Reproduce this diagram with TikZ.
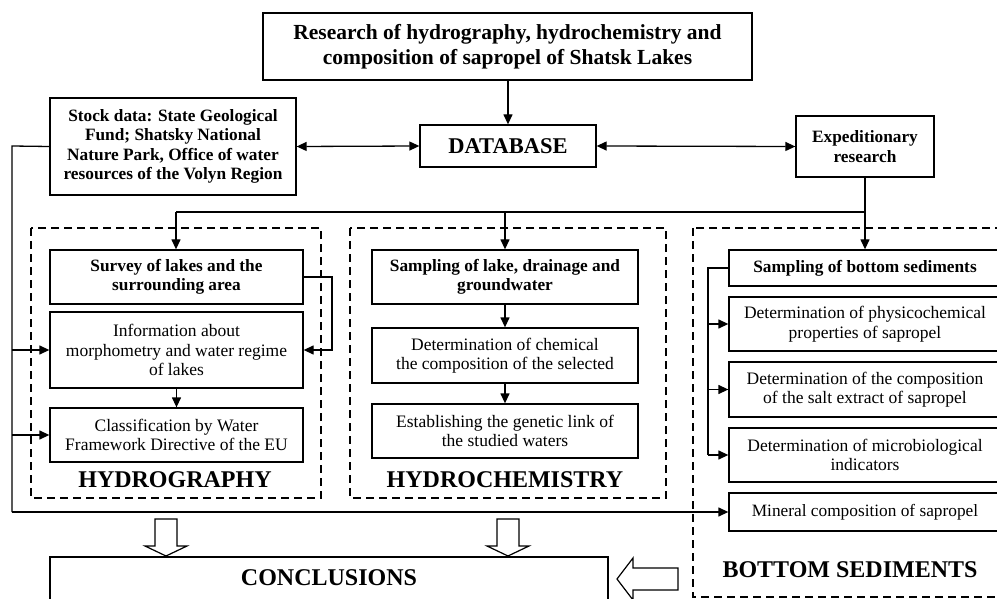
\documentclass[tikz,border=0pt]{standalone}
\usepackage{fontspec}
\setmainfont{Liberation Serif}
\usetikzlibrary{arrows.meta}
\begin{document}
\begin{tikzpicture}[x=1pt,y=-1pt,
  box/.style={draw,line width=1.3pt,inner sep=0pt,align=center,text=black},
  bb/.style={font=\bfseries\fontsize{17.3}{19.3}\selectfont},
  nb/.style={font=\fontsize{17.5}{19.5}\selectfont},
  lab/.style={inner sep=0pt,font=\bfseries\fontsize{24}{26}\selectfont},
  conn/.style={line width=1.3pt},
  arr/.style={conn,-{Triangle[length=10pt,width=9pt]}},
  darr/.style={conn,{Triangle[length=10pt,width=9pt]}-{Triangle[length=10pt,width=9pt]}},
  grp/.style={draw,line width=1.5pt,dash pattern=on 8pt off 5pt},
  hollow/.style={draw,line width=1.2pt,fill=white}]
\useasboundingbox (0,0) rectangle (997,599);
% group frames
\draw[grp] (31,228) rectangle (321,498);
\draw[grp] (350,228) rectangle (666,498);
\draw[grp] (693,228) rectangle (1012,597);
% nodes
\node[box,font=\bfseries\fontsize{21.5}{25}\selectfont,minimum width=489pt,minimum height=67pt] (top) at (507.5,46.5) {Research of hydrography, hydrochemistry and\\composition of sapropel of Shatsk Lakes};
\node[box,font=\bfseries\fontsize{22.5}{24}\selectfont,minimum width=176pt,minimum height=42pt] (db) at (508,146) {DATABASE};
\node[box,bb,minimum width=246pt,minimum height=97pt] (stock) at (173,146.5) {Stock data: State Geological\\Fund; Shatsky National\\Nature Park, Office of water\\resources of the Volyn Region};
\node[box,bb,minimum width=138pt,minimum height=61pt] (exp) at (865,146.5) {Expeditionary\\research};
\node[box,bb,minimum width=253pt,minimum height=54pt] (survey) at (176.5,277) {Survey of lakes and the\\surrounding area};
\node[box,nb,minimum width=253pt,minimum height=76pt] (info) at (176.5,350) {Information about\\morphometry and water regime\\of lakes};
\node[box,nb,minimum width=253pt,minimum height=54pt] (class) at (176.5,435) {Classification by Water\\Framework Directive of the EU};
\node[box,bb,minimum width=266pt,minimum height=54pt] (samp) at (505,277) {Sampling of lake, drainage and\\groundwater};
\node[box,nb,minimum width=266pt,minimum height=55pt] (chem) at (505,355.5) {Determination of chemical\\the composition of the selected};
\node[box,nb,minimum width=266pt,minimum height=54pt] (estab) at (505,431) {Establishing the genetic link of\\the studied waters};
\node[box,bb,minimum width=272pt,minimum height=36pt] (sbot) at (865,268) {Sampling of bottom sediments};
\node[box,nb,minimum width=272pt,minimum height=54pt] (phys) at (865,324) {Determination of physicochemical\\properties of sapropel};
\node[box,nb,minimum width=272pt,minimum height=55pt] (salt) at (865,389.5) {Determination of the composition\\of the salt extract of sapropel};
\node[box,nb,minimum width=272pt,minimum height=54pt] (micro) at (865,455) {Determination of microbiological\\indicators};
\node[box,font=\fontsize{17.3}{19}\selectfont,minimum width=272pt,minimum height=38pt] (mineral) at (865,512) {Mineral composition of sapropel};
\node[box,minimum width=558pt,minimum height=50pt] (concl) at (329,582) {};
\node[lab] (conclt) at (329,578) {CONCLUSIONS};
\node[lab] (lh) at (175,480) {HYDROGRAPHY};
\node[lab] (lc) at (505,480) {HYDROCHEMISTRY};
\node[lab] (lb) at (850,570) {BOTTOM SEDIMENTS};
% coordinates
\coordinate (e1) at (865,212);
\coordinate (h1) at (176,212);
\coordinate (c1) at (505,212);
\coordinate (sv) at (332,277);
\coordinate (svb) at (332,350);
\coordinate (bl1) at (708,268);
\coordinate (bl2) at (708,324);
\coordinate (bl3) at (708,389.5);
\coordinate (bl4) at (708,455);
\coordinate (st1) at (12,146);
\coordinate (st2) at (12,350);
\coordinate (st3) at (12,435);
\coordinate (st4) at (12,512);
% connectors
\draw[arr] (top.south -| db.north) -- (db.north);
\draw[darr] (stock.east) -- (db.west);
\draw[darr] (db.east) -- (exp.west);
\draw[conn] (exp.south) -- (e1) -- (h1);
\draw[arr] (h1) -- (survey.north -| h1);
\draw[arr] (c1) -- (samp.north);
\draw[arr] (e1) -- (sbot.north);
\draw[arr] (survey.east) -- (sv) -- (svb) -- (info.east);
\draw[arr] (info.south) -- (class.north);
\draw[arr] (samp.south) -- (chem.north);
\draw[arr] (chem.south) -- (estab.north);
\draw[conn] (sbot.west) -- (bl1) -- (bl4);
\draw[arr] (bl2) -- (phys.west);
\draw[arr] (bl3) -- (salt.west);
\draw[arr] (bl4) -- (micro.west);
\draw[conn] (stock.west) -- (st1) -- (st4);
\draw[arr] (st4) -- (mineral.west);
\draw[arr] (st2) -- (info.west);
\draw[arr] (st3) -- (class.west);
% hollow arrows
\draw[hollow] (155,519) -- (177,519) -- (177,546) -- (187,546) -- (166,556) -- (145,546) -- (155,546) -- cycle;
\draw[hollow] (497,519) -- (519,519) -- (519,546) -- (529,546) -- (508,556) -- (487,546) -- (497,546) -- cycle;
\draw[hollow] (678,568) -- (678,590) -- (633,590) -- (633,600) -- (617,579) -- (633,558) -- (633,568) -- cycle;
\end{tikzpicture}
\end{document}
